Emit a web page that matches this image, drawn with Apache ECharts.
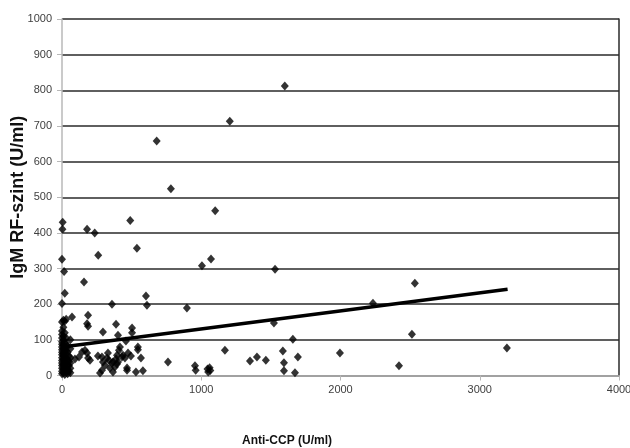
<!DOCTYPE html>
<html>
<head>
<meta charset="utf-8">
<script src="https://cdn.jsdelivr.net/npm/echarts@6/dist/echarts.min.js"></script>
<style>
  html, body { margin: 0; padding: 0; background: #fff; }
  #chart { width: 630px; height: 448px; }
</style>
</head>
<body>
<div id="chart"></div>
<script>
// Anti-CCP (x) vs IgM RF (y)
var points = [
  // cluster near zero
  [0, 5], [0, 12], [0, 20], [0, 28], [0, 35], [0, 42], [0, 50], [0, 58], [0, 65], [0, 72],
  [0, 80], [0, 88], [0, 95], [0, 105], [0, 115], [0, 125], [0, 150], [0, 202], [0, 326],
  [5, 430], [3, 410], [15, 292], [20, 231],
  [10, 8], [10, 18], [10, 30], [10, 45], [10, 55], [10, 62], [10, 75], [10, 85], [10, 100],
  [10, 110], [10, 135], [10, 155],
  [20, 3], [20, 15], [20, 25], [20, 40], [20, 52], [20, 68], [20, 78], [20, 92], [20, 120], [20, 152],
  [30, 10], [30, 22], [30, 35], [30, 48], [30, 60], [30, 70], [30, 88], [30, 105], [30, 158],
  [40, 5], [40, 18], [40, 30], [40, 45], [40, 65], [40, 82],
  [50, 12], [50, 28], [50, 40], [50, 55], [72, 164],
  [60, 8], [60, 20], [60, 35], [60, 50], [60, 75], [60, 100],
  // 80 - 200
  [93, 46], [122, 52], [144, 66], [165, 71], [180, 63], [187, 49], [201, 43],
  [158, 262], [180, 410], [235, 400], [260, 337], [187, 169], [180, 145], [187, 138],
  // 250 - 600
  [258, 55], [287, 52], [294, 38], [309, 29], [287, 15], [273, 7], [323, 49], [337, 43],
  [330, 63], [344, 21], [359, 35], [366, 38], [380, 24], [388, 46], [395, 57], [409, 71],
  [416, 80], [395, 32], [402, 38], [431, 52], [438, 57], [452, 49], [474, 63], [495, 55],
  [467, 15], [366, 10], [294, 122], [388, 144], [402, 113], [503, 133], [503, 120],
  [459, 97], [545, 80], [545, 72], [567, 49], [467, 21], [531, 10], [581, 13],
  [359, 200], [490, 435], [538, 357], [603, 223], [610, 197],
  // 700 - 1700
  [680, 658], [782, 524], [761, 38], [897, 189], [955, 27], [960, 15],
  [1005, 308], [1070, 327], [1100, 462], [1205, 713],
  [1045, 18], [1050, 10], [1060, 22], [1065, 14],
  [1170, 71], [1350, 41], [1400, 52], [1464, 43], [1522, 147], [1530, 298],
  [1586, 69], [1594, 36], [1594, 13], [1600, 812], [1658, 102], [1673, 8], [1694, 52],
  // beyond 1900
  [1996, 63], [2233, 203], [2420, 27], [2513, 116], [2534, 259], [3195, 77]
];

// linear trend line endpoints
var trendLine = [[0, 80], [3200, 242]];

var xTicks = { min: 0, max: 4000, interval: 1000 };
var yTicks = { min: 0, max: 1000, interval: 100 };

var labelFont = {
  color: '#404040',
  fontSize: 11,
  fontFamily: 'Liberation Sans, Arial, sans-serif',
  formatter: function (v) { return String(v); }
};

var chart = echarts.init(document.getElementById('chart'));

chart.setOption({
  animation: false,
  backgroundColor: '#fff',
  title: {
    text: 'Anti-CCP (U/ml)',
    left: 237,
    top: 430,
    textStyle: {
      fontSize: 12,
      fontWeight: 'bold',
      color: '#111',
      fontFamily: 'Liberation Sans, Arial, sans-serif'
    }
  },
  grid: { left: 62, right: 11, top: 19, bottom: 72.5, outerBoundsMode: 'none', containLabel: false },
  xAxis: {
    type: 'value',
    min: xTicks.min,
    max: xTicks.max,
    interval: xTicks.interval,
    axisLine: { show: true, lineStyle: { color: '#b8b8b8', width: 1.5 } },
    axisTick: { show: true, length: 5, lineStyle: { color: '#b8b8b8' } },
    axisLabel: Object.assign({ margin: 9 }, labelFont),
    splitLine: { show: false }
  },
  yAxis: [
    {
      type: 'value',
      min: yTicks.min,
      max: yTicks.max,
      interval: yTicks.interval,
      name: 'IgM RF-szint (U/ml)',
      nameLocation: 'middle',
      nameGap: 35,
      nameMoveOverlap: false,
      nameTextStyle: {
        fontSize: 18,
        fontWeight: 'bold',
        color: '#111',
        fontFamily: 'Liberation Sans, Arial, sans-serif'
      },
      axisLine: { show: true, lineStyle: { color: '#b8b8b8', width: 1.5 } },
      axisTick: { show: true, length: 5, lineStyle: { color: '#b8b8b8' } },
      axisLabel: Object.assign({ margin: 10 }, labelFont),
      splitLine: { show: true, lineStyle: { color: '#2a2a2a', width: 1.5 } }
    },
    {
      type: 'value',
      position: 'right',
      min: yTicks.min,
      max: yTicks.max,
      axisLine: { show: true, lineStyle: { color: '#2a2a2a', width: 1.5 } },
      axisTick: { show: false },
      axisLabel: { show: false },
      splitLine: { show: false }
    }
  ],
  series: [
    {
      type: 'scatter',
      data: points,
      symbol: 'diamond',
      symbolSize: [8, 9],
      itemStyle: { color: '#000' }
    },
    {
      type: 'line',
      data: trendLine,
      showSymbol: false,
      symbol: 'none',
      lineStyle: { color: '#000', width: 3.5 },
      z: 3
    }
  ]
});
</script>
</body>
</html>
